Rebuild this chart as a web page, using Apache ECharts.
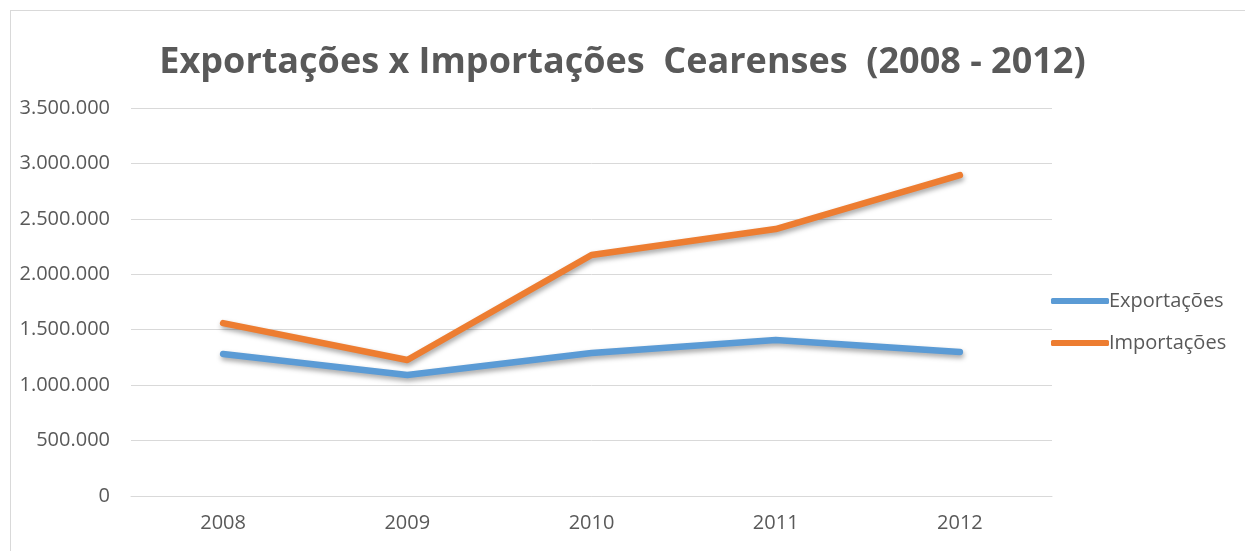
<!DOCTYPE html>
<html><head><meta charset="utf-8">
<script src="https://cdn.jsdelivr.net/npm/echarts@6/dist/echarts.min.js"></script>
<style>html,body{margin:0;padding:0;background:#fff}#c{width:1245px;height:551px}
#frame{position:absolute;left:10px;top:10px;width:1245px;height:551px;border:1px solid #d9d9d9;box-sizing:border-box;pointer-events:none}</style>
</head><body><div id="c"></div><div id="frame"></div>
<script>
const categories = ['2008','2009','2010','2011','2012'];
const exportacoes = [1281000, 1091000, 1290000, 1407000, 1299000];
const importacoes = [1560000, 1227000, 2174000, 2408000, 2895000];
const seriesNames = ['Exportações','Importações'];
const titleText = 'Exportações x Importações  Cearenses  (2008 - 2012)';

const fmt = v => String(v).replace(/\B(?=(\d{3})+(?!\d))/g, '.');
const chart = echarts.init(document.getElementById('c'), null, {renderer:'canvas'});
const font = 'Open Sans';
const lineStyle = c => ({color:c, width:6.5, cap:'round', join:'round', shadowColor:'rgba(0,0,0,0.35)', shadowBlur:5, shadowOffsetX:1, shadowOffsetY:3});
chart.setOption({
  animation:false,
  title:{text:titleText, left:'center', top:40, padding:[5,0,5,22], textStyle:{fontFamily:font, fontSize:36, fontWeight:'bold', color:'#595959'}},
  grid:{left:131, right:193, top:108, bottom:55, containLabel:false},
  legend:{orient:'vertical', left:1046, top:286, itemWidth:58, itemHeight:6, itemGap:22, icon:'roundRect',
    textStyle:{fontFamily:font, fontSize:20, color:'#595959', padding:[0,0,0,-5]}, data:seriesNames},
  xAxis:{type:'category', data:categories, boundaryGap:true,
    axisLine:{lineStyle:{color:'#d9d9d9'}}, axisTick:{show:false},
    axisLabel:{fontFamily:font, fontSize:20, color:'#595959', margin:17}},
  yAxis:{type:'value', min:0, max:3500000, interval:500000,
    axisLine:{show:false}, axisTick:{show:false},
    splitLine:{lineStyle:{color:'#d9d9d9', width:1}},
    axisLabel:{fontFamily:font, fontSize:20, color:'#595959', margin:21, formatter:fmt}},
  series:[
    {name:seriesNames[0], type:'line', data:exportacoes, symbol:'none', color:'#5B9BD5', lineStyle:lineStyle('#5B9BD5')},
    {name:seriesNames[1], type:'line', data:importacoes, symbol:'none', color:'#ED7D31', lineStyle:lineStyle('#ED7D31')}
  ]
});
</script></body></html>
